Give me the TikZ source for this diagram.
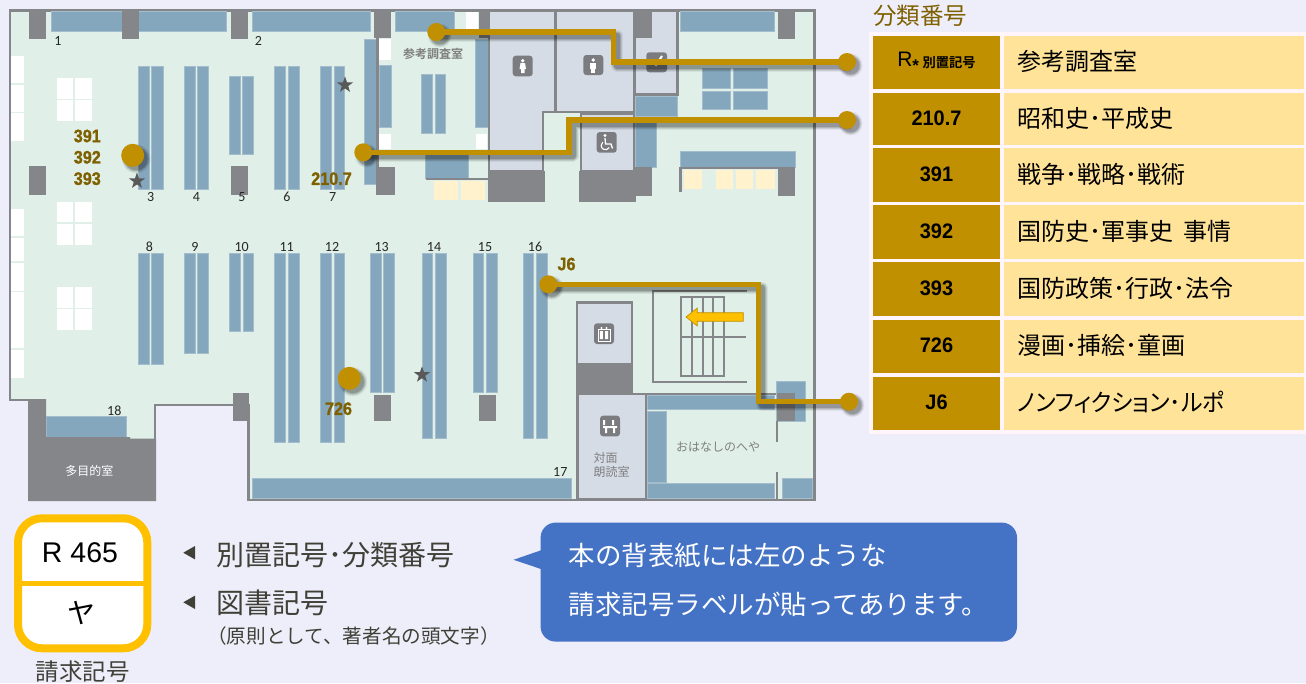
\documentclass[tikz,border=0pt]{standalone}
\usepackage{fontspec}
\setmainfont{Liberation Sans}
\newfontfamily\cjk{Noto Sans CJK JP}
\newfontfamily\cjkb{Noto Sans CJK JP Bold}
\newfontfamily\cjkp[RawFeature=+palt]{Noto Sans CJK JP}
\newfontfamily\cari{Carlito}
\newfontfamily\goldfont[FakeBold=1.2]{Liberation Sans Bold}
\usetikzlibrary{shapes.geometric,calc}
\definecolor{bgc}{HTML}{EEEEFA}
\definecolor{floorc}{HTML}{E0F0E8}
\definecolor{shelfc}{HTML}{85A7BD}
\definecolor{wallc}{HTML}{85868A}
\definecolor{roomc}{HTML}{D6DCE6}
\definecolor{goldc}{HTML}{C09000}
\definecolor{labc}{HTML}{7F6000}
\definecolor{paleY}{HTML}{FFF2CC}
\definecolor{cellY}{HTML}{FFE399}
\definecolor{panelc}{HTML}{FFF5FA}
\definecolor{orangec}{HTML}{FFC000}
\definecolor{bluec}{HTML}{4472C4}
\definecolor{txtg}{HTML}{7F7F7F}
\definecolor{txtd}{HTML}{404038}
\definecolor{starc}{HTML}{595959}
\definecolor{iconc}{HTML}{7B7C80}
\pgfdeclarelayer{floorlayer}
\pgfdeclarelayer{connlayer}
\pgfsetlayers{floorlayer,connlayer,main}
\newcommand\fs[1]{\fontsize{#1}{#1}\selectfont}
\tikzset{
  x=1pt,y=-1pt,
  shelfbox/.style={fill=shelfc,draw=shelfc!75!white,line width=.5pt},
  pillar/.style={fill=wallc},
  whitebox/.style={fill=white},
  yellowbox/.style={fill=paleY},
  wall/.style={draw=wallc,line width=2.4pt},
  roombox/.style={fill=roomc,draw=wallc,line width=2.4pt},
  num/.style={inner sep=0pt,font=\cari\fs{14},text=black!85},
  roomlab/.style={inner sep=0pt,font=\cjk\fs{12},text=txtg},
  goldlab/.style={inner sep=0pt,font=\goldfont\fs{18},text=labc},
  connector/.style={draw=goldc,line width=5.5pt,line join=miter},
  bigdot/.style={circle,fill=goldc,inner sep=0pt,minimum size=23pt},
  enddot/.style={circle,fill=goldc,inner sep=0pt,minimum size=18pt},
  starmark/.style={star,star points=5,star point ratio=2.5,fill=starc,inner sep=0pt,minimum size=17pt},
  codecell/.style={fill=goldc},
  desccell/.style={fill=cellY},
  codetxt/.style={inner sep=0pt,font=\bfseries\fs{21},text=black},
  desctxt/.style={inner sep=0pt,anchor=west,font=\cjk\fs{24},text=black},
  icon/.style={fill=iconc,rounded corners=3pt},
  darktext/.style={inner sep=0pt,anchor=west,text=txtd},
  shadowpass/.style={black,transform canvas={shift={(3.5pt,-3.5pt)}}}
}
\newcommand\softline[1]{%
  \foreach \w/\o in {12/.06,10/.09,8/.12,6/.16}{\draw[shadowpass,opacity=\o,line width=\w pt,line join=round] #1;}%
  \draw[connector] #1;}
\newcommand\softdot[2]{%
  \foreach \w/\o in {3/.06,2/.09,1/.12,0/.16}{\fill[shadowpass,opacity=\o] (#1.center) circle ({#2+\w});}}
\newcommand\tabrow[5]{%
  \fill[codecell] (873,#1) rectangle (1000,#2);
  \fill[desccell] (1004,#1) rectangle (1304,#2);
  \node[codetxt] (code#3) at (936.5,{(#1+#2)/2-1}) {#4};
  \node[desctxt] (desc#3) at (1017.3,{(#1+#2)/2-1}) {#5};}
\newcommand\nar[1]{\scalebox{.95}[1]{#1}}
\begin{document}
\begin{tikzpicture}
\useasboundingbox (0,0) rectangle (1306,683);
\begin{pgfonlayer}{floorlayer}
\fill[bgc] (0,0) rectangle (1306,683);
% floor
\draw[fill=floorc,wall] (9.7,10.3) -- (814.5,10.3) -- (814.5,499.7) -- (248.5,499.7) -- (248.5,405) -- (155,405) -- (155,500) -- (29,500) -- (29,400) -- (9.7,400) -- cycle;
% window whites
\foreach \a/\b in {56/83,84.7/112,113/141,209/236,238/261,262.7/291,292.3/320.5,321/348,350/377.5}
  \fill[whitebox] (11,\a) rectangle (24,\b);
\foreach \a/\b in {78/99,100/121,202/222,223.7/245,286.7/307.5,309/330}{
  \fill[whitebox] (57,\a) rectangle (73,\b);
  \fill[whitebox] (75,\a) rectangle (92,\b);}
% top wall shelves
\path[shelfbox] (51,11.5) rectangle (226,31.3);
\path[shelfbox] (252,11.5) rectangle (370,31.3);
\path[shelfbox] (395,11.5) rectangle (454,31.3);
\path[shelfbox] (680.7,11.5) rectangle (774,31.3);
% twin shelves
\foreach \xa/\xb/\xc/\xd/\ya/\yb in {
 138.3/149/151.7/163/66.7/189.3,
 184.3/195.3/197.7/208.7/66.7/189.3,
 229.3/240.3/242.7/253.7/76.3/154.3,
 274.7/285.7/288/299/66.7/189.3,
 320.3/331.5/334/344.7/66.7/189.3,
 138.3/149/151.7/163/253.3/364,
 184.3/195.3/197.7/208.7/253.3/353.3,
 229.3/240.3/243/253.7/253.3/331.7,
 274.7/285.7/288/299/253.3/442.3,
 320.3/331.5/334/344.7/253.3/442.3,
 370/381.5/383/394.3/253.3/392.7,
 422/432.7/435.7/446.7/253.3/438,
 473.3/483.7/486.3/497.3/253.3/392.7,
 523/533.7/536/547/253.3/438,
 421/432/435/445/74/133}{
  \path[shelfbox] (\xa,\ya) rectangle (\xb,\yb);
  \path[shelfbox] (\xc,\ya) rectangle (\xd,\yb);}
% single shelves
\path[shelfbox] (364,39.3) rectangle (376,184);
\path[shelfbox] (379,65.7) rectangle (391,127);
\path[shelfbox] (475.3,39.3) rectangle (488,127);
\path[shelfbox] (425.3,150) rectangle (468,178.3);
\path[shelfbox] (46,416.7) rectangle (126,437);
\path[shelfbox] (252,478.7) rectangle (571.3,498.5);
\path[shelfbox] (635.7,96.7) rectangle (677,116.7);
\path[shelfbox] (635.7,116) rectangle (656,167);
\foreach \xa/\xb/\ya/\yb in {702.3/730.7/68/88,733/767/68/88,702.3/730.7/91.3/109.7,733/767/91.3/109.7}
  \path[shelfbox] (\xa,\ya) rectangle (\xb,\yb);
\path[shelfbox] (680.7,151) rectangle (795,167);
% reference room
\foreach \xa/\xb/\ya/\yb in {379/391/38.7/60,379/391/134.3/149,476/487.3/134.3/149,466/478/11.5/29}
  \fill[whitebox] (\xa,\ya) rectangle (\xb,\yb);
\draw[wall] (377.5,38) -- (377.5,167);
\draw[wall] (426,179) -- (488,179);
\foreach \xa/\xb in {434/458,461/485.3}
  \fill[yellowbox] (\xa,181) rectangle (\xb,200);
% right yellow seats
\draw[wall] (680.5,192) -- (680.5,168) -- (778,168);
\foreach \xa/\xb in {684.3/701.7,715.7/733,735.7/753,755.7/775}
  \fill[yellowbox] (\xa,170.3) rectangle (\xb,189.3);
% pillars
\foreach \xa/\xb/\ya/\yb in {
 29/46/11/39.3,122/139.3/11/39.3,231/248/11/39.3,373.7/391/11/38,
 29/46/166.3/194.7,231/248/166.3/194.7,376.3/395/167/195,
 479/496/11/38,778/795/11/39.3,778/795/167/196,
 373.7/391/395.3/421.3,478.7/495.7/395.3/421.3,232.7/249/393/421.3}
  \fill[pillar] (\xa,\yb) rectangle (\xb,\ya);
% multipurpose room
\fill[pillar] (28,399) -- (46,399) -- (46,437) -- (130,437) -- (130,438.5) -- (156,438.5) -- (156,501) -- (28,501) -- cycle;
% toilets
\draw[roombox] (489,11) -- (555,11) -- (555,112) -- (543,112) -- (543,171) -- (489,171) -- cycle;
\draw[roombox] (555.5,11) -- (634,11) -- (634,112) -- (555.5,112) -- cycle;
\draw[wall] (543,112) -- (581,112);
\draw[roombox] (581,113.5) -- (634,113.5) -- (634,171) -- (581,171) -- cycle;
\draw[roombox] (635,11) -- (677.5,11) -- (677.5,94.5) -- (635,94.5) -- cycle;
\fill[pillar] (634.3,11) rectangle (652.3,38.3);
\fill[pillar] (488.3,171) rectangle (545,201.7);
\fill[pillar] (579,171) rectangle (635.7,202);
\fill[pillar] (635,167) rectangle (652.3,195.7);
% icons top
\path[icon] (512.7,55.7) rectangle (532.7,76.3);
\path[icon] (583.3,55) rectangle (603.3,75);
\path[icon] (646.3,52.3) rectangle (667,72.3);
\path[icon] (596.7,132) rectangle (616.7,152.7);
\fill[white] (522.7,60.7) circle (1.9);
\fill[white] (520.5,63) -- (525,63) -- (526,69) -- (524.5,69) -- (524.5,73) -- (521,73) -- (521,69) -- (519.5,69) -- cycle;
\fill[white] (593.3,60) circle (1.9);
\fill[white] (590.3,62.5) rectangle (596.3,68.5);
\fill[white] (591.3,68.5) rectangle (595.3,72.5);
\draw[white,line width=2pt] (651,60) -- (656,65) -- (662,56);
\fill[white] (605,135.5) circle (1.7);
\draw[white,line width=1.3pt] (605,138) -- (605.5,144) -- (611,144) -- (612.5,148.5);
\draw[white,line width=1.1pt] (609.2,147.6) arc[start angle=30,end angle=230,radius=4.3];
% stairs
\draw[wall,line width=2pt] (747.3,291.3) -- (652.7,291.3) -- (652.7,381.7) -- (747.3,381.7);
\draw[wall,line width=2pt] (680.7,337) -- (746,337);
\draw[wall,line width=2pt] (680.7,296.7) rectangle (724.3,376);
\foreach \xx in {691.7,702.7,713.3} \draw[wall,line width=2pt] (\xx,296.7) -- (\xx,376);
% lift and reading rooms
\draw[roombox] (576.7,302.3) rectangle (632,364.3);
\fill[pillar] (575.7,364) rectangle (633,394);
\draw[wall] (632,394) -- (795,394);
\draw[roombox] (577.3,394) rectangle (646,499);
\path[icon] (594,323.3) rectangle (614,344);
\path[icon] (600,415.7) rectangle (620,436.3);
\draw[white,line width=.7pt] (598,329) rectangle (610,341);
\fill[white] (601.5,328) circle (1.1) (606.5,328) circle (1.1);
\fill[white] (599.8,331) rectangle (602.8,339) (605,331) rectangle (608,339);
\fill[white] (603,420) rectangle (605,425) (612,420) rectangle (614,425);
\fill[white] (603,426) rectangle (617,428) (605,428) rectangle (607,433) (613,428) rectangle (615,433);
% ohanashi room
\path[shelfbox] (647,395) rectangle (774,409);
\path[shelfbox] (647,411) rectangle (666,482);
\path[shelfbox] (647,483.7) rectangle (774,498.5);
\path[shelfbox] (776.7,381.7) rectangle (805.7,421);
\fill[pillar] (776.7,392.7) rectangle (795,421);
\draw[wall,line width=1.8pt] (777,421) -- (777,442);
\draw[wall,line width=1.8pt] (777,471.7) -- (777,499);
\path[shelfbox] (782,478) rectangle (812,498.5);
% yellow arrow
\draw[fill=orangec,draw=goldc,line width=.7pt] (686,317) -- (697.3,308) -- (697.3,312.7) -- (743.3,312.7) -- (743.3,321.3) -- (697.3,321.3) -- (697.3,326) -- cycle;
% table panel
\fill[panelc] (869,32) rectangle (1306,433.5);
% label
\draw[orangec,line width=8pt,fill=white,rounded corners=24pt] (18,518.3) rectangle (147.3,648.3);
\draw[orangec,line width=4.5pt] (21,583.3) -- (144,583.3);
% triangles
\fill[txtd] (183.3,552.7) -- (195,546) -- (195,559.4) -- cycle;
\fill[txtd] (183.3,602.3) -- (195,595.6) -- (195,609) -- cycle;
% callout
\fill[bluec,rounded corners=15pt] (540.6,522.6) rectangle (1017,641.6);
\fill[bluec] (513.5,559.8) -- (541,550.3) -- (541,569) -- cycle;
\end{pgfonlayer}

% room names and numbers
\node[roomlab] (roomref) at (433,53.7) {\cjkb\textcolor{txtg}{参考調査室}};
\node[roomlab,text=white] (roommulti) at (89.3,470.7) {多目的室};
\node[roomlab,anchor=west] (roomface1) at (593.3,458) {対面};
\node[roomlab,anchor=west] (roomface2) at (593.3,472.3) {朗読室};
\node[roomlab] (roomohana) at (718,447) {おはなしのへや};
\foreach \n/\xx/\yy in {1/58/41,2/258.3/41,3/150.7/196.7,4/196.3/196.7,5/242/196.7,6/287/196.7,7/332.7/196.7,
 8/149.3/246.7,9/195/246.7,10/241.7/246.7,11/286.7/246.7,12/332/246.7,13/381.7/246.7,14/434/246.7,15/485/246.7,16/535/246.7,17/560.3/471.7,18/114.3/411}
  \node[num] (n\n) at (\xx,\yy) {\n};

% stars
\node[starmark] (s1) at (345,85) {};
\node[starmark] (s2) at (137,181) {};
\node[starmark] (s3) at (422,374.8) {};

% dots
\node[bigdot] (p1) at (132.7,155.3) {};
\node[bigdot] (p2) at (349.3,378.3) {};
\node[enddot] (a1) at (436.3,32) {};
\node[enddot] (b1) at (847,62) {};
\node[enddot] (a2) at (363.3,152.3) {};
\node[enddot] (b2) at (847,120) {};
\node[enddot] (a3) at (548.3,284.3) {};
\node[enddot] (b3) at (849,401.7) {};
\coordinate (c1a) at (613.7,32);
\coordinate (c1b) at (613.7,62);
\coordinate (c2a) at (569,152.3);
\coordinate (c2b) at (569,120);
\coordinate (c3a) at (758.3,284.3);
\coordinate (c3b) at (758.3,401.7);
\begin{pgfonlayer}{connlayer}
\softdot{p1}{11.5}
\softdot{p2}{11.5}
\softdot{a1}{9}\softdot{b1}{9}\softdot{a2}{9}\softdot{b2}{9}\softdot{a3}{9}\softdot{b3}{9}
\softline{(a1.center) -- (c1a) -- (c1b) -- (b1.center)}
\softline{(a2.center) -- (c2a) -- (c2b) -- (b2.center)}
\softline{(a3.center) -- (c3a) -- (c3b) -- (b3.center)}
\end{pgfonlayer}

% gold labels
\foreach \t/\xx/\yy/\k in {391/87.3/136/a,392/87.3/157.3/b,393/87.3/178.7/c,210.7/331.5/178.7/d,726/338.5/408.7/e,J6/566.5/264/f}
  \node[goldlab] (g\k) at (\xx,\yy) {\scalebox{.9}[1]{\t}};

% table
\node[inner sep=0pt,anchor=west,font=\cjk\fs{23.5},text=labc] (tabtitle) at (873,15.7) {分類番号};
\tabrow{36}{89}{a}{\mbox{\fontsize{21}{21}\selectfont\mdseries R\raisebox{-5pt}{\bfseries\fs{17}*}\,\raisebox{-1.5pt}{\cjkb\fs{13.3}別置記号}}}{参考調査室}
\tabrow{93}{145}{b}{\nar{210.7}}{昭和史･平成史}
\tabrow{148.3}{201.7}{c}{\nar{391}}{戦争･戦略･戦術}
\tabrow{205}{259}{d}{\nar{392}}{国防史･軍事史\hspace{10pt}事情}
\tabrow{262}{316}{e}{\nar{393}}{国防政策･行政･法令}
\tabrow{320}{373}{f}{\nar{726}}{漫画･挿絵･童画}
\tabrow{377}{430}{g}{\nar{J6}}{\scalebox{.95}[1]{\cjkp ノンフィクション･ルポ}}

% label text
\node[inner sep=0pt,font=\fs{28.5},text=black] (labr) at (80,552.7) {R 465};
\node[inner sep=0pt,font=\cjk\fs{28},text=black] (labk) at (81.7,613.3) {ヤ};
\node[inner sep=0pt,font=\cjk\fs{23.5},text=txtd] (labn) at (82.7,671.7) {請求記号};
\node[darktext,font=\cjk\fs{28}] (ex1) at (216.7,555) {別置記号･分類番号};
\node[darktext,font=\cjk\fs{28}] (ex2) at (216.7,602.7) {図書記号};
\node[darktext,font=\cjk\fs{19.6}] (ex3) at (207,636) {（原則として、著者名の頭文字）};
% callout text
\node[inner sep=0pt,anchor=west,font=\cjk\fs{26.5},text=white] (call1) at (568.6,555.7) {本の背表紙には左のような};
\node[inner sep=0pt,anchor=west,font=\cjk\fs{26.5},text=white] (call2) at (568.6,604.7) {請求記号ラベルが貼ってあります。};
\end{tikzpicture}
\end{document}
